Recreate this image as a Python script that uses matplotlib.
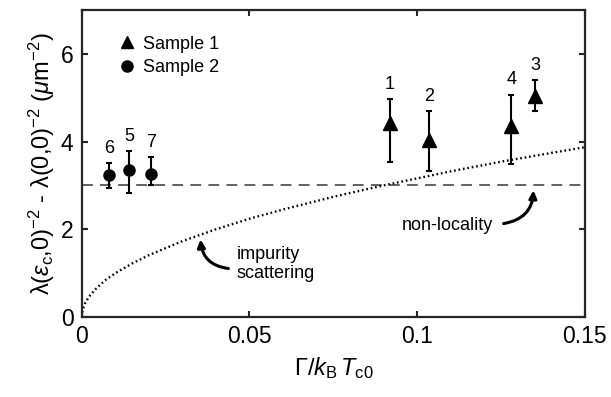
import numpy as np
import matplotlib
matplotlib.use("Agg")
import matplotlib.pyplot as plt
from matplotlib.lines import Line2D

plt.rcParams['font.family'] = ['Liberation Sans', 'DejaVu Sans']
plt.rcParams['mathtext.fontset'] = 'custom'
plt.rcParams['mathtext.rm'] = 'Liberation Sans'
plt.rcParams['mathtext.it'] = 'Liberation Sans:italic'
plt.rcParams['mathtext.fallback'] = 'cm'

# sample 1 (triangles)
s1_labels = ['1', '2', '4', '3']
s1_x = [0.0918, 0.1036, 0.1281, 0.1352]
s1_y = [4.43, 4.03, 4.35, 5.04]
s1_top = [4.96, 4.70, 5.07, 5.40]
s1_bot = [3.53, 3.33, 3.48, 4.70]

# sample 2 (circles)
s2_labels = ['6', '5', '7']
s2_x = [0.0082, 0.0142, 0.0206]
s2_y = [3.23, 3.36, 3.26]
s2_top = [3.50, 3.78, 3.65]
s2_bot = [2.95, 2.83, 3.02]

# non-locality level
nonloc = 3.0

# impurity scattering curve
curve_x = [0.0, 0.0002, 0.0005, 0.001, 0.002, 0.004, 0.007, 0.01, 0.015, 0.02,
           0.03, 0.04, 0.05, 0.06, 0.075, 0.09, 0.1, 0.11, 0.125, 0.14, 0.15]
curve_y = [0.0, 0.14, 0.22, 0.32, 0.45, 0.63, 0.84, 1.00, 1.22, 1.41,
           1.73, 2.00, 2.24, 2.45, 2.74, 3.00, 3.16, 3.32, 3.54, 3.74, 3.87]

fig = plt.figure(figsize=(6.11, 3.97), dpi=100)
ax = fig.add_axes([0.134, 0.2015, 0.823, 0.7735])

ax.axhline(nonloc, color='#555555', lw=1.3, ls=(0, (6, 4)), zorder=1)
ax.plot(curve_x, curve_y, color='black', lw=1.7, ls=(0, (0.7, 1.2)), zorder=2)

err1 = [np.array(s1_y) - np.array(s1_bot), np.array(s1_top) - np.array(s1_y)]
err2 = [np.array(s2_y) - np.array(s2_bot), np.array(s2_top) - np.array(s2_y)]
ax.errorbar(s1_x, s1_y, yerr=err1, fmt='^', color='black', ms=9.5, lw=1.5,
            capsize=2.5, capthick=1.5, zorder=3)
ax.errorbar(s2_x, s2_y, yerr=err2, fmt='o', color='black', ms=8, lw=1.5,
            capsize=2.5, capthick=1.5, zorder=3)

for lab, x, t in zip(s1_labels + s2_labels, s1_x + s2_x, s1_top + s2_top):
    ax.annotate(lab, (x, t), xytext=(0, 4.5), textcoords='offset points',
                ha='center', va='bottom', fontsize=13)

arrow = dict(arrowstyle='-|>,head_length=0.45,head_width=0.22',
             color='black', lw=2.2, shrinkA=0, shrinkB=0)
ax.text(0.0462, 1.20, 'impurity\nscattering', fontsize=13, va='center',
        ha='left', linespacing=1.15)
ax.annotate('', xy=(0.0354, 1.77), xytext=(0.0437, 1.105),
            arrowprops=dict(arrow, connectionstyle='arc3,rad=-0.4'))
ax.text(0.0955, 2.09, 'non-locality', fontsize=13, va='center', ha='left')
ax.annotate('', xy=(0.1347, 2.89), xytext=(0.1258, 2.13),
            arrowprops=dict(arrow, connectionstyle='arc3,rad=0.4'))

ax.set_xlim(0, 0.15)
ax.set_ylim(0, 7)
ax.set_xticks([0, 0.05, 0.1, 0.15])
ax.set_xticklabels(['0', '0.05', '0.1', '0.15'])
ax.set_yticks([0, 2, 4, 6])
ax.tick_params(direction='in', top=True, right=True, length=4, width=1.5,
               labelsize=16.5, color='#262626', pad=6)
for sp in ax.spines.values():
    sp.set_linewidth(1.6)
    sp.set_color('#262626')

ax.set_xlabel(r'$\Gamma/k_\mathrm{B}\,T_\mathrm{c0}$', fontsize=17, labelpad=5)
ax.set_ylabel(r'$\mathrm{\lambda}(\varepsilon_\mathrm{c}{,}0)^{\mathrm{-2}}$ - '
              r'$\mathrm{\lambda}(0{,}0)^{\mathrm{-2}}$ ($\mu$m$^{\mathrm{-2}}$)',
              fontsize=17, labelpad=3)

handles = [Line2D([], [], marker='^', ls='none', color='black', ms=9),
           Line2D([], [], marker='o', ls='none', color='black', ms=8)]
ax.legend(handles, ['Sample 1', 'Sample 2'], loc='upper left',
          bbox_to_anchor=(0.058, 0.94), frameon=False, fontsize=13,
          handletextpad=0.35, borderaxespad=0, labelspacing=0.35,
          handlelength=1.0)

fig.savefig('out.png', dpi=100)
